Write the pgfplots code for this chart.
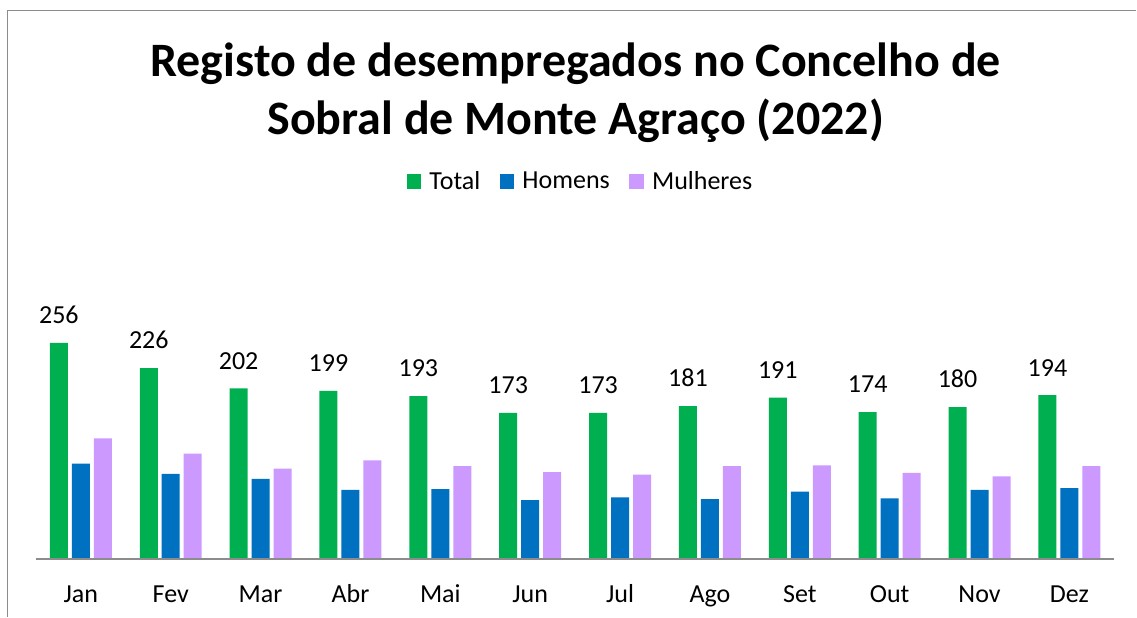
\documentclass[border=0pt]{standalone}
\usepackage{fontspec}
\setmainfont{Carlito}
\usepackage{pgfplots}
\pgfplotsset{compat=1.18}

\definecolor{cTotal}{HTML}{00B050}
\definecolor{cHom}{HTML}{0070C0}
\definecolor{cMul}{HTML}{CC99FF}
\definecolor{frame}{HTML}{8C8C8C}

\newcommand{\fs}[1]{\fontsize{#1}{1.2\dimexpr #1pt\relax}\selectfont}

\begin{document}
\begin{tikzpicture}[x=1pt,y=1pt]
\fill[white] (0,0) rectangle (1137,617);
% chart frame (only top and left edges visible)
\draw[frame, line width=1.3pt] (7.5,0) -- (7.5,606.5) -- (1137,606.5);

% title
\node[font=\bfseries\fs{48}, anchor=base, inner sep=0pt] at (576,540)
  {Registo de desempregados no Concelho de};
\node[font=\bfseries\fs{48}, anchor=base, inner sep=0pt] at (576,482)
  {Sobral de Monte Agraço (2022)};

% the anchor lands about (-4,-9) off, so compensated here
\begin{axis}[
  at={(40,68)}, anchor=south west,
  scale only axis,
  width=1079pt, height=296pt,
  xmin=-0.5, xmax=11.5,
  ymin=0, ymax=350,
  axis line style={draw=none},
  xtick={0,...,11},
  xticklabels={Jan,Fev,Mar,Abr,Mai,Jun,Jul,Ago,Set,Out,Nov,Dez},
  major tick length=0pt,
  xticklabel style={font=\fs{26}, anchor=base, yshift=-43pt},
  ytick=\empty,
  ybar=4pt, bar width=18pt,
  /pgf/number format/assume math mode=true,
  legend columns=-1,
  legend style={at={(0.505,1.277)}, anchor=center, draw=none,
    font=\fs{26},
    /tikz/every odd column/.append style={column sep=6pt},
    /tikz/every even column/.append style={column sep=17.5pt}},
  legend image code/.code={\fill[#1] (0pt,-7.3pt) rectangle (14.7pt,7.3pt);},
]
\addplot[fill=cTotal, draw=none,
  nodes near coords,
  nodes near coords style={font=\fs{26}, text=black, inner sep=0pt, anchor=south, yshift=19pt}]
  coordinates {(0,256)(1,226)(2,202)(3,199)(4,193)(5,173)(6,173)(7,181)(8,191)(9,174)(10,180)(11,194)};
\addplot[fill=cHom, draw=none]
  coordinates {(0,113)(1,101)(2,95)(3,82)(4,83)(5,70)(6,73)(7,71)(8,80)(9,72)(10,82)(11,84)};
\addplot[fill=cMul, draw=none]
  coordinates {(0,143)(1,125)(2,107)(3,117)(4,110)(5,103)(6,100)(7,110)(8,111)(9,102)(10,98)(11,110)};
\legend{Total,Homens,Mulheres}
\draw[frame, line width=1.5pt] (rel axis cs:0,0) -- (rel axis cs:1,0);
\end{axis}
\end{tikzpicture}
\end{document}
